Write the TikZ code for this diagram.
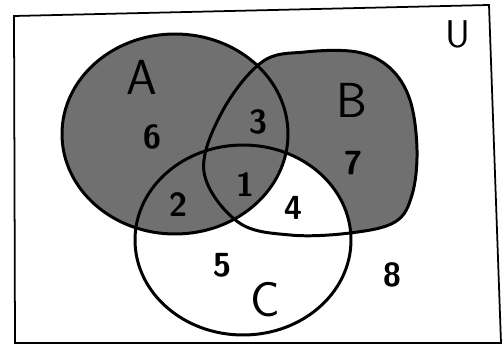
\documentclass[tikz,border=0pt]{standalone}
\usepackage{tikz}
\definecolor{vshade}{RGB}{112,112,112}

\begin{document}
\begin{tikzpicture}[x=0.02cm,y=-0.02cm,every node/.style={font=\sffamily},
    setline/.style={line width=1.7pt},
    region/.style={font=\sffamily\bfseries\fontsize{19}{21}\selectfont},
    setname/.style={font=\sffamily\fontsize{28}{30}\selectfont}]
      \useasboundingbox (0,0) rectangle (504,347);
      \fill[vshade] plot[smooth cycle,tension=0.6] coordinates {(204,172) (222,112) (262,62) (305,52)
            (357,52) (390,68) (410,100) (417,150) (412,195) (395,222) (350,233) (290,235) (238,222)};
      \fill[white] (243,240) ellipse [x radius=108,y radius=95];
      \fill[vshade] (175,134) ellipse [x radius=113,y radius=100];
      \draw[setline] plot[smooth cycle,tension=0.6] coordinates {(204,172) (222,112) (262,62) (305,52)
            (357,52) (390,68) (410,100) (417,150) (412,195) (395,222) (350,233) (290,235) (238,222)};
      \draw[setline] (175,134) ellipse [x radius=113,y radius=100];
      \draw[setline] (243,240) ellipse [x radius=108,y radius=95];
      \draw[line width=1pt] (14,16) -- (489,5) -- (501,343) -- (15,343) -- cycle;
      \node[setname] (a) at (142,77) {A};
      \node[setname] (b) at (352,100) {B};
      \node[setname] (c) at (265,300) {C};
      \node[font=\sffamily\fontsize{22}{24}\selectfont] (u) at (458,34) {U};
      \node[region] (r1) at (245,185) {1};
      \node[region] (r2) at (178,205) {2};
      \node[region] (r3) at (258,122) {3};
      \node[region] (r4) at (293,208) {4};
      \node[region] (r5) at (222,265) {5};
      \node[region] (r6) at (152,137) {6};
      \node[region] (r7) at (353,163) {7};
      \node[region] (r8) at (392,275) {8};
\end{tikzpicture}
\end{document}
